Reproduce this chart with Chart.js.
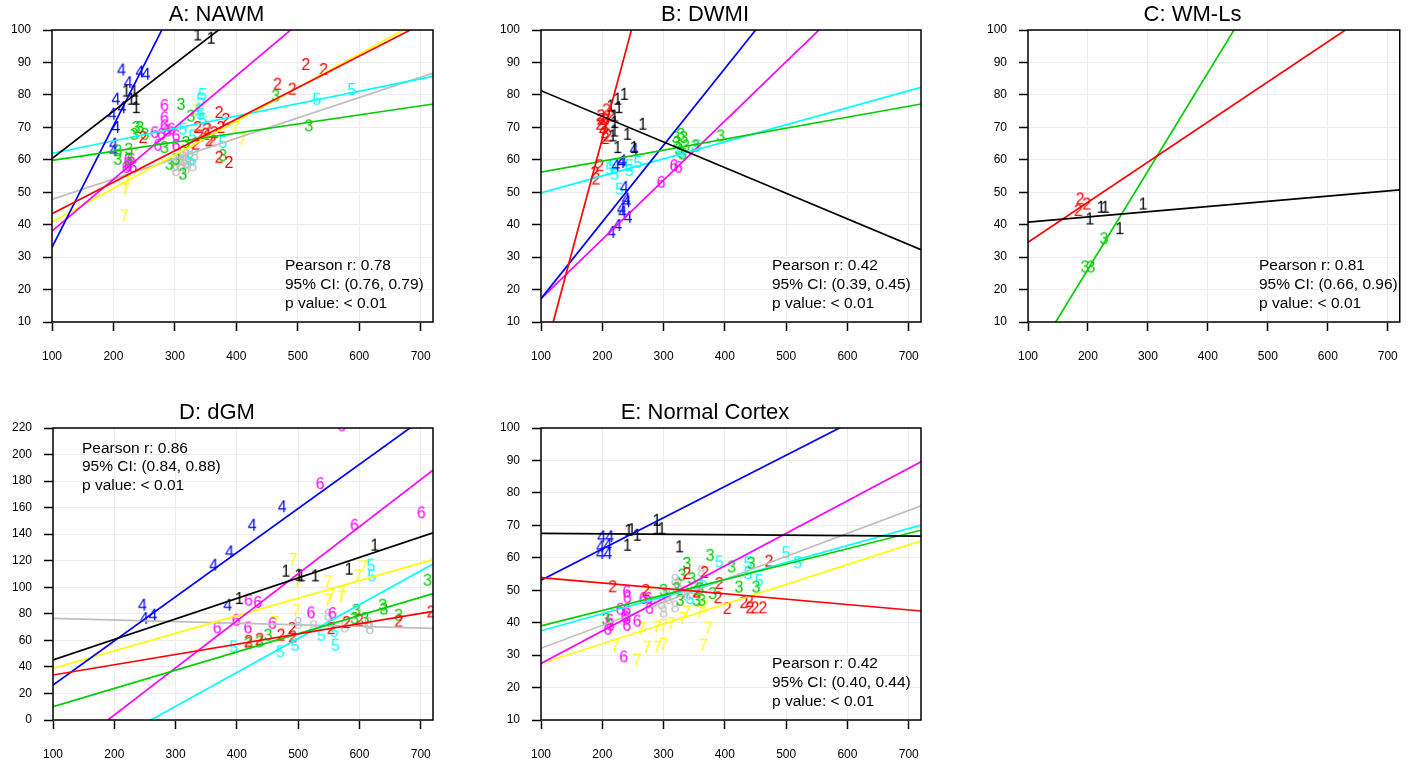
<!DOCTYPE html>
<html>
<head>
<meta charset="utf-8">
<script src="https://cdn.jsdelivr.net/npm/chart.js@4/dist/chart.umd.min.js"></script>
<style>
  html, body { margin: 0; padding: 0; background: #fff; width: 1416px; height: 763px; overflow: hidden; }
  canvas { position: absolute; }
</style>
</head>
<body>
<canvas id="nawm" width="470" height="380" style="left:0px;top:0px"></canvas>
<canvas id="dwmi" width="470" height="380" style="left:489px;top:0px"></canvas>
<canvas id="wmls" width="440" height="380" style="left:976px;top:0px"></canvas>
<canvas id="dgm" width="470" height="365" style="left:1px;top:398px"></canvas>
<canvas id="cortex" width="470" height="365" style="left:489px;top:398px"></canvas>
<script>
/******************************************************************************
 * data
 *****************************************************************************/
const groupLabels = ['1', '2', '3', '4', '5', '6', '7', '8'];
const groupColors = ['#000000', '#FF0000', '#00CD00', '#0000FF', '#00FFFF', '#FF00FF', '#FFFF00', '#BEBEBE'];
const xTicks = [100, 200, 300, 400, 500, 600, 700];
const fitX = [100, 720];

// A: NAWM, points per group as [x, y]
const nawmPoints = [
  [[337,98],[359,97],[221,80.7],[234,80.7],[229,78.2],[237,78.2],[237,75.6]],
  [[513,88.9],[542,87.4],[467,82.8],[491,81.3],[372,74.1],[383,72],[248,66.4],[337,69.5],[353,69],[364,67.9],[375,69.5],[334,64.4],[356,65.4],[361,65.4],[372,60.3],[388,58.7],[340,66.9],[350,67.4]],
  [[310,76.6],[326,73],[464,79.2],[518,70],[237,69.5],[243,69.5],[251,67.4],[234,67.4],[283,63.3],[207,62.3],[225,62.8],[225,59.7],[207,59.7],[291,58.2],[302,59.7],[313,55.1],[378,60.8],[318,64.9]],
  [[213,87.2],[243,86.6],[253,85.9],[224,83.3],[204,78.2],[214,75.6],[198,73.6],[204,69.5],[200,64.4],[200,62.3]],
  [[345,79.7],[342,78.2],[340,74.6],[313,69],[378,64.9],[531,78.2],[588,81.2],[329,66.9],[326,59.7],[345,72],[342,73.6]],
  [[283,76.3],[283,72.5],[283,70],[267,67.9],[278,67.4],[288,68.4],[294,69],[302,66.9],[272,64],[302,64],[224,59.7],[229,59.7],[224,57.7],[232,57.2],[221,57.2]],
  [[399,69.5],[410,65.9],[220,52.6],[220,50.5],[218,42.3],[334,74.6],[318,63.8],[286,67.4]],
  [[313,61.8],[318,60.8],[307,59.7],[321,58.7],[329,57.7],[302,56.2],[315,59.2],[324,61.8],[332,60.8],[310,57.7],[351,69],[299,57.7],[318,56.7]]
];
const nawmFit100 = [60.4, 43.4, 59.8, 33, 62, 38, 40.8, 47.8];
const nawmFit720 = [151, 103.6, 77.2, 265.5, 85.7, 137, 105, 86.7];
const nawmStats = ['Pearson r: 0.78', '95% CI: (0.76, 0.79)', 'p value: < 0.01'];

// B: DWMI
const dwmiPoints = [
  [[225,78.2],[236,79.7],[227,75.6],[220,73],[220,71],[220,68.4],[217,66.9],[241,67.4],[266,70.5],[225,63.3],[252,63.3],[214,76.1]],
  [[207,74.9],[198,72],[204,72],[196,70.5],[206,70.5],[201,69.5],[204,67.9],[209,66.9],[205,66.1],[198,73.1],[196,57.7],[188,55.6],[190,53.6],[214,73.1]],
  [[320,66.4],[328,67.4],[333,66.4],[322,64.9],[336,63.8],[393,66.9],[352,63.8],[331,61.3],[325,62.8]],
  [[252,62.8],[222,57.7],[231,58.7],[233,59.2],[236,51],[239,47.4],[240,46.6],[231,44.4],[233,43.4],[242,41.8],[225,39.3],[215,37.2]],
  [[217,57.7],[220,55.1],[244,57.7],[258,58.7],[244,56.2],[228,50.5],[355,63.8],[328,61.8],[212,56.7]],
  [[317,57.7],[324,57.2],[296,52.6]],
  [],
  []
];
const dwmiFit100 = [81.3, -4, 56.2, 17.2, 49.8, 17.2, null, null];
const dwmiFit720 = [32.3, 433, 77.2, 163.8, 82.3, 130.4, null, null];
const dwmiStats = ['Pearson r: 0.42', '95% CI: (0.39, 0.45)', 'p value: < 0.01'];

// C: WM-Ls
const wmlsPoints = [
  [[203,41.3],[222,44.9],[229,44.9],[292,45.9],[253,38.3]],
  [[187,47.5],[198,45.9],[184,43.9]],
  [[227,35.2],[195,26.5],[205,26.5]]
];
const wmlsFit100 = [40.8, 34.6, -4];
const wmlsFit720 = [50.7, 111.2, 183.7];
const wmlsStats = ['Pearson r: 0.81', '95% CI: (0.66, 0.96)', 'p value: < 0.01'];

// D: dGM
const dgmPoints = [
  [[625,130.6],[480,111],[501,108],[505,107.5],[528,107.5],[583,112.5],[404,90.4]],
  [[717,80.3],[664,73.3],[600,74],[579,72.3],[554,67.8],[490,67.8],[491,61.5],[472,62.8],[437,59.7],[419,58.2]],
  [[711,104.2],[595,81.6],[638,85.4],[640,82.4],[664,77.8],[609,75.3],[592,75.3],[451,62.8],[437,57.7],[419,56.5]],
  [[246,85.4],[249,75.3],[263,77.8],[362,115.5],[388,125.5],[425,145.6],[474,159.5],[385,85.4]],
  [[619,115.5],[620,107.5],[395,54],[471,50.2],[495,55.2],[538,62.8],[561,55.2],[559,65.8]],
  [[571,220.5],[536,177],[701,155],[592,145.6],[419,89.1],[434,87.4],[399,74],[368,68.3],[418,68.3],[458,71.5],[521,79.6],[556,79.1]],
  [[492,119.8],[500,103],[549,103],[549,89.1],[554,92.9],[571,95.4],[571,91.6],[598,107.5],[607,114.2],[497,81.1],[462,72.3]],
  [[500,71.5],[525,69],[549,77.8],[554,70.3],[617,67.8],[614,71.5],[576,69]]
];
const dgmFit100 = [45.2, 33.9, 10, 26.3, -40.8, -31.7, 38.9, 76.6];
const dgmFit720 = [141, 81.8, 95.3, 232.5, 117.6, 188.2, 120.8, 69];
const dgmStats = ['Pearson r: 0.86', '95% CI: (0.84, 0.88)', 'p value: < 0.01'];

// E: Normal Cortex
const cortexPoints = [
  [[243,68],[248,68.2],[257,66.5],[241,63.4],[289,71.1],[289,68.5],[297,68.5],[326,62.9]],
  [[472,58.5],[367,55],[338,54.7],[217,50.6],[271,49.5],[354,49],[391,51.6],[389,47.2],[404,43.9],[431,45.7],[441,44.1],[449,44.1],[462,44.1],[440,46.1]],
  [[376,60.3],[338,57.8],[411,56.7],[443,57.8],[330,54.2],[346,53.1],[300,49.5],[327,46.4],[354,46.4],[362,46.4],[380,48.5],[423,50.5],[451,50.5],[359,50],[321,50],[206,40.6]],
  [[199,66],[212,66],[197,62.9],[209,63.4],[197,60.8],[209,60.8]],
  [[391,58.3],[438,58],[438,54.7],[456,52.6],[500,61.1],[519,58],[343,47],[365,52.1]],
  [[240,49],[241,47.2],[267,47],[275,47],[277,43.9],[229,43.7],[240,43.4],[240,40.8],[240,38.7],[212,40.3],[213,38.7],[209,37.5],[257,40],[235,29],[237,41.3]],
  [[221,32.4],[273,32],[290,32],[300,32.8],[365,32.6],[257,28],[373,37.9],[264,37.7],[289,38.2],[300,38.7],[313,39.2],[332,40.8],[338,42.8],[359,42.8],[367,44.4],[275,48.5]],
  [[319,52.6],[324,51.1],[308,47],[297,45.4],[300,42.8],[319,44.4],[335,49],[349,50],[362,55.2],[359,51.1],[338,48],[305,48],[283,45.7]]
];
const cortexFit100 = [67.5, 53.9, 39, 53.1, 37.5, 27.4, 27.4, 32.1];
const cortexFit720 = [66.7, 43.6, 68.5, 112.8, 70.1, 89.6, 65.2, 76];
const cortexStats = ['Pearson r: 0.42', '95% CI: (0.40, 0.44)', 'p value: < 0.01'];

/******************************************************************************
 * helpers
 *****************************************************************************/
const FONT = '"Liberation Sans", Arial, Helvetica, sans-serif';

// the points are plotted as their group number, like R's text()
function digitImage(label, color) {
  const c = document.createElement('canvas');
  c.width = 14;
  c.height = 22;
  const g = c.getContext('2d');
  g.font = '16px ' + FONT;
  g.fillStyle = color;
  g.textAlign = 'center';
  g.textBaseline = 'middle';
  g.fillText(label, 7, 11);
  return c;
}

const framePlugin = {
  id: 'frame',
  afterDraw(chart) {
    const { ctx, chartArea: a } = chart;
    ctx.save();
    ctx.strokeStyle = '#000';
    ctx.lineWidth = 1.5;
    ctx.strokeRect(a.left, a.top, a.right - a.left, a.bottom - a.top);
    ctx.restore();
  }
};

const statsPlugin = {
  id: 'stats',
  afterDraw(chart, args, opts) {
    const { ctx, chartArea: a } = chart;
    ctx.save();
    ctx.font = '15.5px ' + FONT;
    ctx.fillStyle = '#000';
    ctx.textAlign = 'left';
    ctx.textBaseline = 'middle';
    const y0 = opts.fromTop != null ? a.top + opts.fromTop : a.bottom - opts.fromBottom;
    opts.lines.forEach((t, i) => ctx.fillText(t, a.left + opts.left, y0 + i * 18.8));
    ctx.restore();
  }
};

function drawPanel(id, title, points, fit100, fit720, stats, yMin, yMax, padRight, statsPos) {
  const datasets = [];
  fit100.forEach((v, i) => {
    if (v === null) return;
    datasets.push({
      type: 'line',
      data: [{ x: fitX[0], y: v }, { x: fitX[1], y: fit720[i] }],
      borderColor: groupColors[i],
      borderWidth: 1.7,
      pointRadius: 0,
      tension: 0,
      clip: 0,
      order: 0
    });
  });
  points.forEach((pts, i) => {
    datasets.push({
      type: 'scatter',
      data: pts.map(p => ({ x: p[0], y: p[1] })),
      pointStyle: digitImage(groupLabels[i], groupColors[i]),
      pointRadius: 5,
      clip: 0,
      order: 1
    });
  });

  new Chart(document.getElementById(id), {
    data: { datasets: datasets },
    options: {
      responsive: false,
      animation: false,
      devicePixelRatio: 1,
      layout: { padding: { left: 0, right: padRight, top: 0, bottom: 0 } },
      plugins: {
        legend: { display: false },
        tooltip: { enabled: false },
        title: {
          display: true,
          text: title,
          color: '#000',
          font: { family: FONT, size: 22, weight: 'normal', lineHeight: 1.2 },
          padding: { top: 2, bottom: 1.6 }
        },
        stats: Object.assign({ lines: stats }, statsPos)
      },
      scales: {
        x: {
          type: 'linear',
          min: fitX[0],
          max: fitX[1],
          afterBuildTicks: s => { s.ticks = xTicks.map(v => ({ value: v })); },
          afterFit: s => { s.height = s.chart.height - 322; },
          ticks: { color: '#000', font: { family: FONT, size: 12 }, padding: 18, maxRotation: 0 },
          grid: { color: '#ececec', lineWidth: 1, tickColor: '#000', tickLength: 9, tickWidth: 1.5 },
          border: { display: false }
        },
        y: {
          type: 'linear',
          min: yMin,
          max: yMax,
          ticks: { stepSize: 10, color: '#000', font: { family: FONT, size: 12 }, padding: 12 },
          afterFit: s => { s.width = 52; },
          grid: { color: '#ececec', lineWidth: 1, tickColor: '#000', tickLength: 9, tickWidth: 1.5 },
          border: { display: false }
        }
      }
    },
    plugins: [framePlugin, statsPlugin]
  });
}

/******************************************************************************
 * panels
 *****************************************************************************/
drawPanel('nawm', 'A: NAWM', nawmPoints, nawmFit100, nawmFit720, nawmStats, 10, 100, 37, { left: 233, fromBottom: 56.3 });
drawPanel('dwmi', 'B: DWMI', dwmiPoints, dwmiFit100, dwmiFit720, dwmiStats, 10, 100, 38, { left: 231, fromBottom: 56.3 });
drawPanel('wmls', 'C: WM-Ls', wmlsPoints, wmlsFit100, wmlsFit720, wmlsStats, 10, 100, 7, { left: 231, fromBottom: 56.3 });
drawPanel('dgm', 'D: dGM', dgmPoints, dgmFit100, dgmFit720, dgmStats, 0, 220, 38, { left: 29, fromTop: 20.3 });
drawPanel('cortex', 'E: Normal Cortex', cortexPoints, cortexFit100, cortexFit720, cortexStats, 10, 100, 38, { left: 231, fromBottom: 56 });
</script>
</body>
</html>
